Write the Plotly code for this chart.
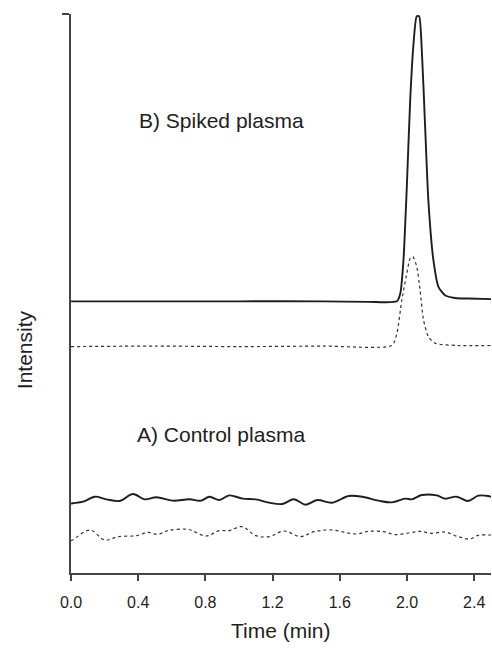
import plotly.graph_objects as go

# ---- data (time in min, intensity in arbitrary units 0-100) ----
b_solid_t = [0.0, 0.5, 1.0, 1.5, 1.77, 1.94, 1.96, 1.979, 1.999, 2.019, 2.039, 2.058, 2.072,
             2.088, 2.108, 2.127, 2.157, 2.187, 2.226, 2.286, 2.365, 2.5]
b_solid_v = [48.6, 48.6, 48.6, 48.6, 48.5, 48.6, 50.0, 56.0, 69.1, 84.6, 94.8, 99.6, 99.6,
             93.6, 79.8, 66.7, 56.0, 51.2, 49.7, 49.2, 49.1, 49.0]

b_dot_t = [0.0, 0.5, 1.0, 1.5, 1.91, 1.94, 1.969, 1.999, 2.019, 2.035, 2.058, 2.078, 2.098,
           2.127, 2.167, 2.3, 2.5]
b_dot_v = [40.5, 40.6, 40.5, 40.6, 40.7, 42.9, 48.8, 53.6, 56.3, 56.6, 54.8, 50.6, 45.3,
           42.3, 41.1, 40.7, 40.7]

a_solid_t = [0.0, 0.01, 0.073, 0.142, 0.211, 0.29, 0.369, 0.439, 0.508, 0.606, 0.705, 0.774,
             0.824, 0.883, 0.942, 1.021, 1.1, 1.179, 1.258, 1.327, 1.397, 1.466, 1.554,
             1.653, 1.732, 1.831, 1.91, 1.989, 2.028, 2.088, 2.177, 2.226, 2.295, 2.364,
             2.424, 2.483, 2.5]
a_solid_v = [12.4, 12.47, 12.76, 13.65, 13.18, 12.88, 14.13, 13.18, 13.54, 12.94, 13.18, 12.94,
             13.65, 13.06, 13.89, 13.3, 13.18, 12.58, 12.34, 13.18, 12.22, 13.06, 12.58,
             13.77, 13.65, 12.94, 12.64, 13.3, 13.18, 13.95, 13.89, 13.3, 13.65, 12.88,
             13.83, 13.77, 13.6]

a_dot_t = [0.0, 0.01, 0.113, 0.201, 0.28, 0.389, 0.458, 0.517, 0.577, 0.695, 0.804, 0.883,
           0.942, 1.017, 1.1, 1.179, 1.268, 1.367, 1.446, 1.554, 1.693, 1.772, 1.861,
           1.93, 2.009, 2.078, 2.147, 2.226, 2.305, 2.374, 2.424, 2.483, 2.5]
a_dot_v = [5.8, 5.9, 7.69, 5.9, 6.5, 6.68, 7.27, 6.92, 7.57, 7.81, 6.62, 7.57, 7.57, 8.29,
           6.68, 6.5, 7.51, 6.5, 7.39, 7.69, 6.98, 7.45, 7.39, 6.86, 7.16, 7.45, 7.1, 7.33,
           6.5, 6.08, 6.74, 6.8, 6.8]

x_ticks = [0.0, 0.4, 0.8, 1.2, 1.6, 2.0, 2.4]
x_tick_labels = ["0.0", "0.4", "0.8", "1.2", "1.6", "2.0", "2.4"]

FONT = "Liberation Sans"
INK = "#1e1e1e"

fig = go.Figure()
fig.add_trace(go.Scatter(x=b_solid_t, y=b_solid_v, mode="lines",
                         line=dict(color=INK, width=1.9, shape="spline", smoothing=0.6)))
fig.add_trace(go.Scatter(x=b_dot_t, y=b_dot_v, mode="lines",
                         line=dict(color="#333333", width=1.2, dash="dot", shape="spline", smoothing=0.6)))
fig.add_trace(go.Scatter(x=a_solid_t, y=a_solid_v, mode="lines",
                         line=dict(color=INK, width=1.9, shape="spline", smoothing=1.0)))
fig.add_trace(go.Scatter(x=a_dot_t, y=a_dot_v, mode="lines",
                         line=dict(color="#333333", width=1.2, dash="dot", shape="spline", smoothing=1.0)))

fig.update_layout(
    width=492, height=653,
    margin=dict(l=71, r=1, t=14, b=80),
    paper_bgcolor="white", plot_bgcolor="white",
    showlegend=False,
    font=dict(family=FONT, color=INK),
    xaxis=dict(range=[0, 2.5], tickvals=x_ticks, ticktext=x_tick_labels,
               ticks="outside", ticklen=6, tickwidth=1.5, tickcolor="#444444",
               showline=True, linecolor="#444444", linewidth=2,
               showgrid=False, zeroline=False,
               tickfont=dict(size=16, color=INK, family=FONT), ticklabelstandoff=8),
    yaxis=dict(range=[0, 100], tickvals=[100], ticks="outside", ticklen=7,
               tickwidth=1.5, tickcolor="#444444", showticklabels=False,
               showline=True, linecolor="#444444", linewidth=2,
               showgrid=False, zeroline=False),
)
fig.add_annotation(x=0.391, y=81.0, xref="x", yref="y", text="B) Spiked plasma", showarrow=False,
                   xanchor="left", yanchor="middle", font=dict(size=21, color=INK, family=FONT))
fig.add_annotation(x=0.379, y=24.7, xref="x", yref="y", text="A) Control plasma", showarrow=False,
                   xanchor="left", yanchor="middle", font=dict(size=21, color=INK, family=FONT))
# axis titles as positioned text
fig.add_annotation(x=-0.11, y=0.40, xref="paper", yref="paper", text="Intensity",
                   textangle=-90, showarrow=False, xanchor="center", yanchor="middle",
                   font=dict(size=21, color=INK, family=FONT))
fig.add_annotation(x=0.5, y=-0.102, xref="paper", yref="paper", text="Time (min)",
                   showarrow=False, xanchor="center", yanchor="middle",
                   font=dict(size=21, color=INK, family=FONT))

fig.write_html("out.html", config={"displayModeBar": False},
               post_script="document.body.style.margin='0px';")
